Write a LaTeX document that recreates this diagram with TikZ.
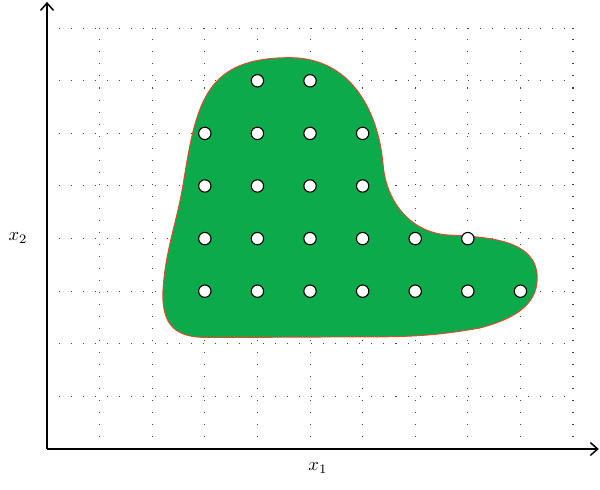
\documentclass[tikz,border=0pt]{standalone}
\usepackage{amsmath,amssymb}
\usepackage{xcolor}
\usepackage{tikz}
\usetikzlibrary{positioning,arrows.meta}
\definecolor{REGgreen}{HTML}{0DAA4B}
\definecolor{REGedge}{HTML}{E8472D}
\definecolor{REGgrid}{HTML}{444444}

\tikzset{
  gridline/.style={REGgrid, line width=0.55pt, dash pattern=on 0.55pt off 5.95pt},
  axisline/.style={black, line width=0.8pt, -{Straight Barb[length=4pt,width=7pt]}},
  ptdot/.style={circle, fill=white, draw=black, line width=0.6pt, minimum size=0.235cm, inner sep=0pt},
  axislab/.style={font=\normalsize}
}

\begin{document}
\begin{tikzpicture}
\useasboundingbox (-0.894,-0.779) rectangle (10.513,8.536);
\draw[gridline] (0,0) grid (10,8);
% admissible region
\filldraw[fill=REGgreen, draw=REGedge, line width=0.5pt]
  (4.62,7.44) to[out=0,in=95,looseness=1.05] (6.39,5.40)
  to[out=-85,in=175] (7.60,4.07)
  to[out=-3,in=90] (9.32,3.25)
  to[out=-90,in=15] (8.23,2.30)
  to[out=-170,in=0] (6.00,2.13)
  to[out=180,in=0] (3.04,2.12)
  to[out=180,in=-90,looseness=1.3] (2.20,2.95)
  to[out=87,in=-99] (2.60,5.11)
  to[out=81,in=180,looseness=1.3] cycle;
% lattice points
\foreach \x in {4,5}{\node[ptdot] (p-\x-7) at (\x,7) {};}
\foreach \y in {5,6}{
  \foreach \x in {3,...,6}{\node[ptdot] (p-\x-\y) at (\x,\y) {};}
}
\foreach \x in {3,...,8}{\node[ptdot] (p-\x-4) at (\x,4) {};}
\foreach \x in {3,...,9}{\node[ptdot] (p-\x-3) at (\x,3) {};}
% axes
\coordinate (O) at (0,0);
\coordinate (xend) at (10.49,0);
\coordinate (yend) at (0,8.50);
\draw[axisline] (O) -- (xend);
\draw[axisline] (O) -- (yend);
\node[axislab] (xlab) at (5.15,-0.36) {$x_1$};
\node[axislab] (ylab) at (-0.55,4.01) {$x_2$};
\end{tikzpicture}
\end{document}
